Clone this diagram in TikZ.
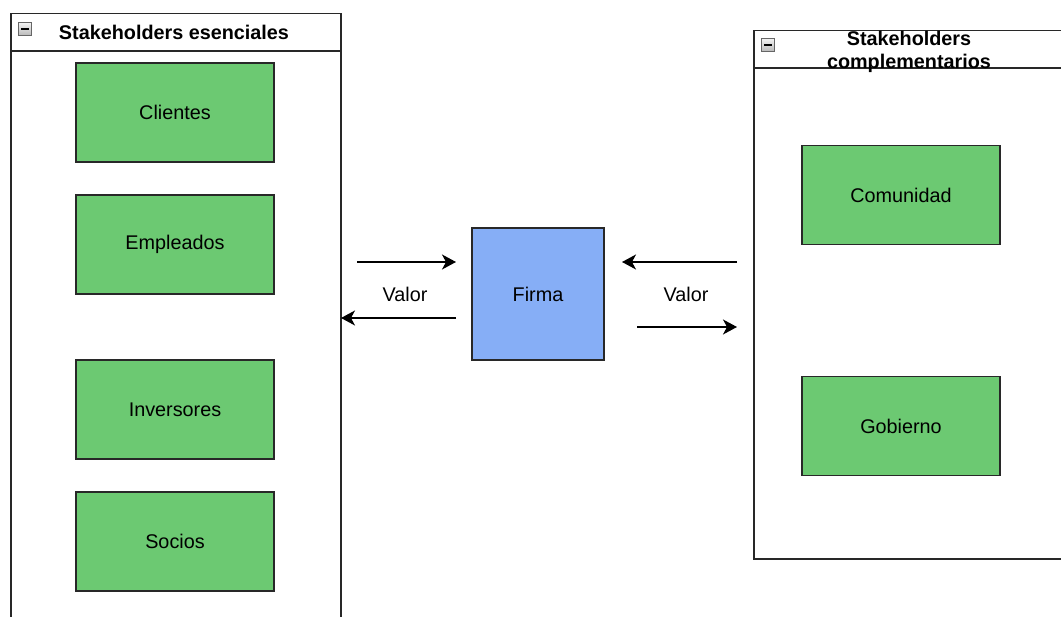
\documentclass[tikz,border=0pt]{standalone}
\usepackage{fontspec}
\setmainfont{Liberation Sans}
\usetikzlibrary{arrows.meta}
\definecolor{boxgreen}{RGB}{108,201,114}
\definecolor{boxblue}{RGB}{134,174,246}
\definecolor{edgegrey}{RGB}{40,40,40}
\tikzset{
  greenbox/.style={draw=edgegrey, line width=1.5pt, fill=boxgreen, minimum width=198pt, minimum height=99pt, inner sep=0pt, font=\fontsize{19.8}{22}\selectfont},
  firmabox/.style={draw=edgegrey, line width=1.5pt, fill=boxblue, minimum width=132pt, minimum height=132pt, inner sep=0pt, font=\fontsize{19.8}{22}\selectfont},
  container/.style={draw=edgegrey, line width=1.5pt, inner sep=0pt},
  headtext/.style={font=\bfseries\fontsize{19.8}{23}\selectfont, align=center, inner sep=0pt},
  lbl/.style={font=\fontsize{19.8}{22}\selectfont, inner sep=0pt},
  flow/.style={line width=1.5pt, -{Stealth[length=14pt,width=15pt,inset=4pt]}},
  minusicon/.style={draw=gray!80!black, line width=0.7pt, top color=gray!10, bottom color=gray!55, minimum size=13pt, inner sep=0pt},
}
\begin{document}
\begin{tikzpicture}[x=1pt,y=-1pt]
\useasboundingbox (0,0) rectangle (1061,617);
\clip (0,0) rectangle (1061,617);
\fill[white] (0,0) rectangle (1061,617);

% left container (open at bottom of picture)
\node[container, minimum width=330pt, minimum height=620pt, anchor=north west] (left) at (10,13) {};
\draw[edgegrey, line width=1.5pt] (10,51) -- (340,51);
\node[minusicon] (lminus) at (25,29) {};
\draw[black, line width=1.4pt] ([xshift=3pt]lminus.west) -- ([xshift=-3pt]lminus.east);
\node[headtext] (lhead) at (174,32) {Stakeholders esenciales};

% right container (open at right side of picture)
\node[container, minimum width=330pt, minimum height=528pt, anchor=north west] (right) at (753,30) {};
\draw[edgegrey, line width=1.5pt] (753,68) -- (1070,68);
\node[minusicon] (rminus) at (768,45) {};
\draw[black, line width=1.4pt] ([xshift=3pt]rminus.west) -- ([xshift=-3pt]rminus.east);
\node[headtext] (rhead) at (909,52) {Stakeholders\\complementarios};

% green boxes
\node[greenbox] (clientes) at (175,112.5) {Clientes};
\node[greenbox] (empleados) at (175,244.5) {Empleados};
\node[greenbox] (inversores) at (175,409.5) {Inversores};
\node[greenbox] (socios) at (175,541.5) {Socios};
\node[greenbox] (comunidad) at (901,195) {Comunidad};
\node[greenbox] (gobierno) at (901,426) {Gobierno};

% firma
\node[firmabox] (firma) at (538,294) {Firma};

% arrows
\coordinate (a1s) at (357,262);
\coordinate (a1e) at (456,262);
\coordinate (a2s) at (456,318);
\coordinate (a2e) at (341,318);
\coordinate (a3s) at (737,262);
\coordinate (a3e) at (622,262);
\coordinate (a4s) at (637,327);
\coordinate (a4e) at (737,327);
\draw[flow] (a1s) -- (a1e);
\draw[flow] (a2s) -- (a2e);
\draw[flow] (a3s) -- (a3e);
\draw[flow] (a4s) -- (a4e);
\node[lbl] (valorL) at (405,294) {Valor};
\node[lbl] (valorR) at (686,294) {Valor};
\end{tikzpicture}
\end{document}
